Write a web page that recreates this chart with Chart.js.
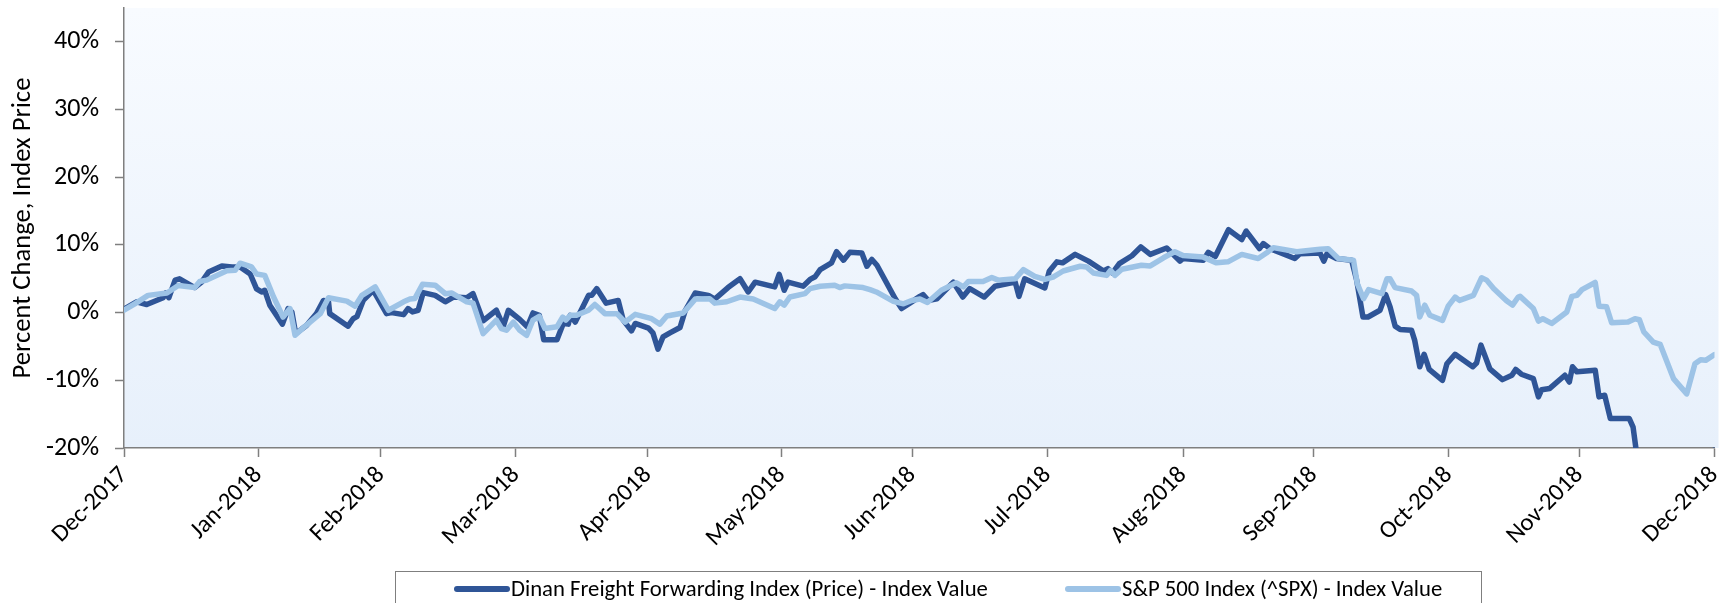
<!DOCTYPE html>
<html>
<head>
<meta charset="utf-8">
<script src="https://cdn.jsdelivr.net/npm/chart.js@4.4.1/dist/chart.umd.min.js"></script>
<style>
html,body{margin:0;padding:0;background:#ffffff;}
#wrap{width:1736px;height:603px;position:relative;overflow:hidden;}
</style>
</head>
<body>
<div id="wrap"><canvas id="chart" width="1736" height="603"></canvas></div>
<script>
// ---- Data (x = trading-day index from the Dec-2017 tick, y = % change) ----
const seriesNames = ['Dinan Freight Forwarding Index (Price) - Index Value', 'S&P 500 Index (^SPX) - Index Value'];

const tickPositions = [0, 21.3, 40.7, 62.1, 83.0, 104.2, 124.9, 146.3, 167.8, 188.5, 209.9, 230.6, 252];
const tickLabels = ['Dec-2017','Jan-2018','Feb-2018','Mar-2018','Apr-2018','May-2018','Jun-2018','Jul-2018','Aug-2018','Sep-2018','Oct-2018','Nov-2018','Dec-2018'];
const yTicks = [-20, -10, 0, 10, 20, 30, 40];

const dinanX = [
  0, 2.0, 3.6, 6.2, 6.6, 7.1, 8.1, 8.8, 11.2, 12.3,
  13.4, 15.5, 17.1, 18.4, 20.0, 21.0, 21.8, 22.3, 23.1, 25.1,
  26.0, 26.6, 27.2, 28.9, 30.5, 31.6, 32.4, 32.6, 35.5, 36.3,
  36.9, 37.9, 39.5, 41.6, 42.4, 44.3, 45.0, 45.7, 46.6, 47.4,
  49.3, 50.9, 52.2, 54.3, 55.3, 56.9, 59.0, 60.1, 60.9, 62.7,
  63.9, 64.8, 65.8, 66.5, 68.6, 69.6, 70.4, 70.7, 71.5, 73.6,
  74.1, 74.9, 76.4, 78.3, 79.1, 80.4, 81.0, 83.1, 83.8, 84.6,
  85.4, 86.5, 88.1, 88.9, 90.5, 92.6, 93.6, 95.7, 97.6, 98.9,
  100.0, 103.1, 103.8, 104.6, 105.2, 107.6, 108.7, 109.5, 110.3, 112.1,
  112.9, 114.0, 115.0, 116.9, 117.7, 118.5, 119.3, 122.2, 123.2, 124.5,
  126.1, 126.6, 127.4, 128.8, 131.4, 132.9, 134.0, 136.3, 138.0, 141.2,
  141.8, 142.7, 145.9, 146.6, 147.8, 148.7, 150.7, 152.8, 155.2, 155.9,
  156.6, 157.7, 159.7, 161.1, 162.6, 165.2, 167.3, 167.8, 171.0, 171.8,
  172.9, 175.0, 177.1, 177.8, 179.9, 180.5, 181.6, 185.5, 186.3, 189.5,
  190.1, 190.6, 192.1, 194.5, 195.3, 196.3, 197.1, 199.0, 199.9, 200.6,
  201.4, 202.2, 204.0, 204.5, 205.3, 206.0, 206.8, 208.9, 209.6, 210.9,
  213.7, 214.3, 215.0, 216.4, 218.4, 219.9, 220.5, 221.4, 223.3, 224.1,
  224.6, 225.9, 228.3, 229.0, 229.5, 230.2, 233.1, 233.7, 234.6, 235.5,
  238.5, 239.1, 239.9, 244, 251, 252
];
const dinanY = [
  0.5, 1.6, 1.2, 2.2, 2.9, 2.2, 4.8, 5.0, 3.7, 4.5,
  6.0, 6.9, 6.75, 6.75, 5.7, 3.5, 3.05, 3.3, 1.1, -1.7,
  0.6, 0.1, -3.1, -1.9, -0.15, 1.8, 1.6, -0.15, -2.0, -0.9,
  -0.6, 1.8, 3.3, -0.15, 0, -0.3, 0.6, 0.1, 0.35, 2.95,
  2.55, 1.6, 2.3, 2.2, 2.8, -1.2, 0.35, -2.0, 0.35, -1.0,
  -2.1, -0.05, -0.4, -4.0, -4.0, -1.6, -1.7, -0.4, -1.4, 2.55,
  2.55, 3.55, 1.4, 1.8, -1.1, -2.7, -1.6, -2.3, -3.0, -5.4,
  -3.6, -3.0, -2.2, 0.25, 2.9, 2.55, 2.0, 3.7, 5.0, 3.05,
  4.5, 3.8, 5.65, 3.3, 4.5, 3.9, 4.9, 5.3, 6.35, 7.35,
  9.0, 7.75, 8.9, 8.8, 6.85, 7.85, 7.0, 2.05, 0.6, 1.4,
  2.4, 2.65, 1.8, 2.05, 4.5, 2.3, 3.55, 2.3, 3.9, 4.5,
  2.4, 5.0, 3.65, 6.1, 7.5, 7.35, 8.6, 7.6, 6.15, 6.5,
  5.85, 7.25, 8.4, 9.7, 8.6, 9.55, 7.6, 8.0, 7.75, 8.9,
  8.3, 12.25, 10.8, 12.05, 9.45, 10.2, 9.45, 8.0, 8.7, 8.8,
  7.6, 8.7, 8.0, 7.75, 4.8, -0.65, -0.65, 0.35, 2.65, 0.85,
  -2.0, -2.5, -2.6, -4.1, -8.0, -6.15, -8.4, -10.0, -7.55, -6.15,
  -8.0, -7.45, -4.8, -8.3, -9.9, -9.25, -8.4, -9.1, -9.75, -12.45,
  -11.4, -11.2, -9.25, -10.25, -8.0, -8.75, -8.5, -12.45, -12.2, -15.65,
  -15.65, -16.9, -22.5, -25, -25, -20.3
];

const spxX = [
  0, 1.7, 3.8, 6.8, 8.6, 11.2, 12.0, 13.1, 16.3, 17.6,
  18.4, 20.2, 21.0, 22.3, 23.7, 25.2, 26.3, 27.1, 28.2, 31.1,
  32.4, 35.3, 36.6, 37.7, 39.8, 41.9, 44.3, 45.3, 46.1, 47.3,
  49.3, 50.9, 51.9, 54.3, 55.3, 56.9, 59.0, 59.8, 60.6, 61.7,
  62.7, 63.8, 64.8, 65.8, 66.7, 68.6, 69.5, 70.0, 70.7, 71.7,
  73.6, 74.6, 76.2, 78.1, 79.4, 81.0, 83.6, 84.9, 86.0, 88.6,
  90.5, 92.8, 93.6, 95.5, 97.6, 99.7, 103.1, 103.9, 104.6, 105.5,
  107.9, 108.7, 110.3, 112.6, 113.4, 114.2, 117.1, 118.2, 119.2, 121.9,
  123.5, 124.8, 126.1, 127.3, 129.5, 131.9, 133.0, 133.8, 136.1, 137.5,
  138.5, 141.2, 142.5, 144.3, 145.9, 147.2, 148.8, 151.5, 152.5, 153.6,
  155.7, 156.3, 157.0, 158.1, 161.2, 162.6, 164.7, 166.5, 167.8, 171.0,
  173.1, 174.9, 177.1, 179.7, 181.0, 182.1, 185.8, 186.9, 189.5, 190.8,
  192.4, 194.8, 195.4, 196.4, 197.2, 199.3, 200.1, 200.6, 201.4, 204.0,
  204.8, 205.3, 206.1, 206.9, 208.9, 209.8, 210.9, 211.6, 213.8, 215.1,
  215.9, 217.0, 219.0, 220.0, 220.9, 221.2, 223.3, 224.1, 224.8, 226.2,
  228.6, 229.4, 230.2, 231.0, 233.1, 233.7, 234.9, 235.7, 238.3, 239.4,
  240.1, 240.8, 242.3, 243.4, 245.5, 247.6, 248.9, 249.8, 250.6, 252
];
const spxY = [
  0.35, 1.3, 2.55, 2.9, 4.0, 3.7, 4.6, 4.8, 6.2, 6.25,
  7.3, 6.75, 5.7, 5.5, 2.3, -0.65, 0.6, -3.35, -2.4, -0.15,
  2.2, 1.7, 0.95, 2.55, 3.8, 0.35, 1.6, 2.0, 2.1, 4.2,
  4.05, 2.8, 2.9, 1.6, 1.4, -3.1, -1.1, -2.35, -2.6, -1.4,
  -2.6, -3.35, -1.1, -0.55, -2.35, -2.1, -0.65, -1.1, -0.4, -0.4,
  0.35, 1.2, -0.15, -0.15, -1.4, -0.25, -0.9, -1.7, -0.5, -0.05,
  2.0, 2.05, 1.4, 1.6, 2.3, 2.0, 0.6, 1.6, 1.1, 2.3,
  2.8, 3.55, 3.9, 4.05, 3.7, 3.95, 3.7, 3.4, 3.05, 1.65,
  1.3, 1.8, 2.0, 1.5, 3.3, 4.4, 3.8, 4.6, 4.6, 5.2,
  4.8, 5.0, 6.35, 5.35, 4.9, 5.25, 6.15, 6.85, 6.75, 5.85,
  5.5, 6.25, 5.5, 6.4, 7.0, 6.9, 8.1, 9.0, 8.45, 8.2,
  7.35, 7.5, 8.6, 8.0, 8.8, 9.6, 9.0, 9.1, 9.35, 9.45,
  8.0, 7.75, 4.3, 2.05, 3.4, 2.8, 5.0, 5.0, 3.7, 3.2,
  2.55, -0.65, 1.1, -0.4, -1.15, 0.95, 2.3, 1.8, 2.55, 5.15,
  4.8, 3.55, 1.8, 1.1, 2.3, 2.4, 0.6, -1.25, -0.9, -1.6,
  0.1, 2.4, 2.55, 3.4, 4.45, 0.95, 0.85, -1.5, -1.4, -0.9,
  -1.05, -2.85, -4.35, -4.7, -9.75, -12.0, -7.55, -6.95, -7.05, -6.2
];

// ---- Styling ----
const FONT = 'Carlito, Calibri, Lato, "Liberation Sans", sans-serif';
const DARK = '#2f5597';
const LIGHT = '#9dc3e6';
const AXIS = '#7f7f7f';

function fitSize(text, target) {
  const c = document.createElement('canvas').getContext('2d');
  c.font = '100px ' + FONT;
  return 100 * target / c.measureText(text).width;
}
const yTickSize = fitSize('-20%', 53);
const xTickSize = fitSize('Jan-2018', 90);
const yTitleSize = fitSize('Percent Change, Index Price', 301);
const legendSize = fitSize(seriesNames[0], 477);

const toPoints = (xs, ys) => xs.map((x, i) => ({ x: x, y: ys[i] }));

const bgPlugin = {
  id: 'plotBg',
  beforeDraw(chart) {
    const { ctx, chartArea: a } = chart;
    const g = ctx.createLinearGradient(0, a.top, 0, a.bottom);
    g.addColorStop(0, '#f8fbff');
    g.addColorStop(1, '#e7f0fb');
    ctx.save();
    ctx.fillStyle = g;
    ctx.fillRect(a.left, a.top, a.right - a.left + 4, a.bottom - a.top);
    ctx.restore();
  }
};

const legendPlugin = {
  id: 'boxLegend',
  afterDraw(chart) {
    const ctx = chart.ctx;
    ctx.save();
    ctx.strokeStyle = '#7f7f7f';
    ctx.lineWidth = 1;
    ctx.strokeRect(395.5, 571.5, 1086, 60);
    const items = [{ x0: 457, x1: 507, tx: 511 }, { x0: 1068, x1: 1118, tx: 1122 }];
    const y = 589;
    chart.data.datasets.forEach((ds, i) => {
      const it = items[i];
      ctx.strokeStyle = ds.borderColor;
      ctx.lineWidth = 6;
      ctx.lineCap = 'round';
      ctx.beginPath();
      ctx.moveTo(it.x0, y);
      ctx.lineTo(it.x1, y);
      ctx.stroke();
      ctx.fillStyle = '#000';
      ctx.font = legendSize.toFixed(2) + 'px ' + FONT;
      ctx.textBaseline = 'middle';
      ctx.textAlign = 'left';
      ctx.fillText(ds.label, it.tx, y + 1);
    });
    ctx.restore();
  }
};

const titleLH = yTitleSize * 1.2;

new Chart(document.getElementById('chart'), {
  type: 'line',
  data: {
    datasets: [
      { label: seriesNames[0], data: toPoints(dinanX, dinanY), borderColor: DARK, backgroundColor: DARK,
        borderWidth: 5.5, pointRadius: 0, tension: 0, borderJoinStyle: 'round', borderCapStyle: 'round', order: 1 },
      { label: seriesNames[1], data: toPoints(spxX, spxY), borderColor: LIGHT, backgroundColor: LIGHT,
        borderWidth: 5.5, pointRadius: 0, tension: 0, borderJoinStyle: 'round', borderCapStyle: 'round', order: 0 }
    ]
  },
  options: {
    responsive: false,
    animation: false,
    devicePixelRatio: 1,
    layout: { padding: { top: 8, right: 21.5, bottom: 0, left: 0 } },
    plugins: { legend: { display: false }, tooltip: { enabled: false } },
    scales: {
      x: {
        type: 'linear',
        min: 0,
        max: 252,
        afterBuildTicks: (s) => { s.ticks = tickPositions.map(v => ({ value: v })); },
        afterFit: (s) => { s.height = 155; s.paddingLeft = 0; s.paddingRight = 0; },
        ticks: {
          autoSkip: false,
          maxRotation: 45,
          minRotation: 45,
          padding: 4,
          color: '#000',
          font: { family: FONT, size: xTickSize },
          callback: (v) => tickLabels[tickPositions.indexOf(v)]
        },
        grid: { display: true, drawOnChartArea: false, drawTicks: true, tickLength: 9, color: AXIS, tickWidth: 1.5 },
        border: { display: true, color: AXIS, width: 1.5 }
      },
      y: {
        type: 'linear',
        min: -20,
        max: 45,
        afterBuildTicks: (s) => { s.ticks = yTicks.map(v => ({ value: v })); },
        afterFit: (s) => { s.width = 124; s.paddingTop = 0; s.paddingBottom = 0; },
        ticks: {
          padding: 16,
          color: '#000',
          font: { family: FONT, size: yTickSize },
          callback: (v) => v + '%'
        },
        grid: { display: true, drawOnChartArea: false, drawTicks: true, tickLength: 9, color: AXIS, tickWidth: 1.5 },
        border: { display: true, color: AXIS, width: 1.5 },
        title: {
          display: true,
          text: 'Percent Change, Index Price',
          color: '#000',
          font: { family: FONT, size: yTitleSize },
          padding: { top: Math.max(0, 23 - titleLH / 2), bottom: 0 }
        }
      }
    }
  },
  plugins: [bgPlugin, legendPlugin]
});
</script>
</body>
</html>
